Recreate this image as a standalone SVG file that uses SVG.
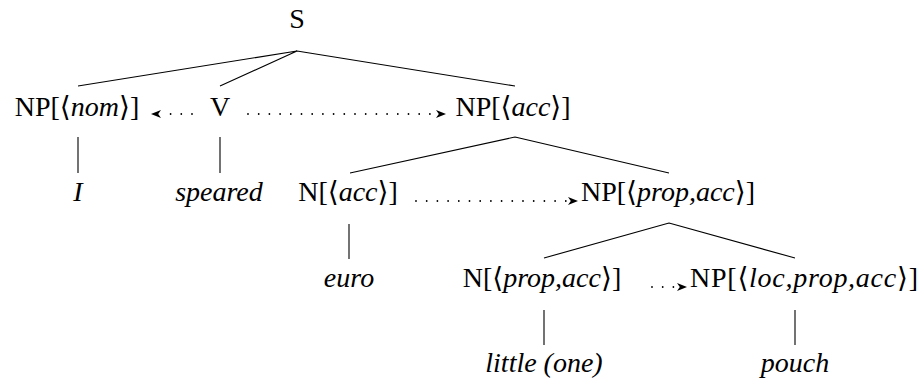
<svg xmlns="http://www.w3.org/2000/svg" width="924" height="381" viewBox="0 0 924 381">
<style>
text{font-family:"Liberation Serif","DejaVu Serif",serif;font-size:28px;fill:#000}
.it{font-style:italic}
.ln{stroke:#000;stroke-width:1.1;fill:none}
.dot{stroke:#000;stroke-width:1.8;stroke-linecap:round;stroke-dasharray:0 10.7;fill:none}
.ar{stroke:none;fill:none}
</style>
<defs>
<marker id="ah" markerWidth="11" markerHeight="8" refX="10" refY="4" orient="auto" markerUnits="userSpaceOnUse">
<path d="M0,0 L10,4 L0,8 L2.8,4 z" fill="#000"/>
</marker>
</defs>
<g id="connectors">
<path class="ln" d="M297,51 L78,86 M297,51 L220,86 M297,51 L515,86"/>
<path class="ln" d="M78,137 L78,173 M220,137 L220,173"/>
<path class="ln" d="M515,137 L350,173 M515,137 L669,173"/>
<path class="ln" d="M349,224 L349,259"/>
<path class="ln" d="M669,223 L544,258 M669,223 L795,258"/>
<path class="ln" d="M544,310 L544,345 M795,310 L795,345"/>
<path class="dot" d="M192,114 L165,114"/>
<path class="ar" d="M161,114 L151,114" marker-end="url(#ah)"/>
<path class="dot" d="M248,114 L432,114"/>
<path class="ar" d="M436,114 L446,114" marker-end="url(#ah)"/>
<path class="dot" d="M416,201 L566,201"/>
<path class="ar" d="M568,201 L578,201" marker-end="url(#ah)"/>
<path class="dot" d="M652,287 L674,287"/>
<path class="ar" d="M677,287 L687,287" marker-end="url(#ah)"/>
</g>
<g id="S"><text x="297" y="28" text-anchor="middle">S</text></g>
<g id="NPnom"><text x="77" y="116" text-anchor="middle">NP[⟨<tspan class="it">nom</tspan>⟩]</text></g>
<g id="V"><text x="220" y="116" text-anchor="middle">V</text></g>
<g id="NPacc"><text x="513" y="116" text-anchor="middle">NP[⟨<tspan class="it">acc</tspan>⟩]</text></g>
<g id="I"><text class="it" x="78" y="201" text-anchor="middle">I</text></g>
<g id="speared"><text class="it" x="219" y="201" text-anchor="middle">speared</text></g>
<g id="Nacc"><text x="348" y="201" text-anchor="middle">N[⟨<tspan class="it">acc</tspan>⟩]</text></g>
<g id="NPpropacc"><text x="668" y="201" text-anchor="middle">NP[⟨<tspan class="it">prop,acc</tspan>⟩]</text></g>
<g id="euro"><text class="it" x="349" y="287" text-anchor="middle">euro</text></g>
<g id="Npropacc"><text x="542" y="287" text-anchor="middle">N[⟨<tspan class="it">prop,acc</tspan>⟩]</text></g>
<g id="NPlocpropacc"><text x="690" y="287" textLength="228" lengthAdjust="spacing">NP[⟨<tspan class="it">loc,prop,acc</tspan>⟩]</text></g>
<g id="little"><text class="it" x="544" y="372" text-anchor="middle">little (one)</text></g>
<g id="pouch"><text class="it" x="795" y="372" text-anchor="middle">pouch</text></g>
</svg>
